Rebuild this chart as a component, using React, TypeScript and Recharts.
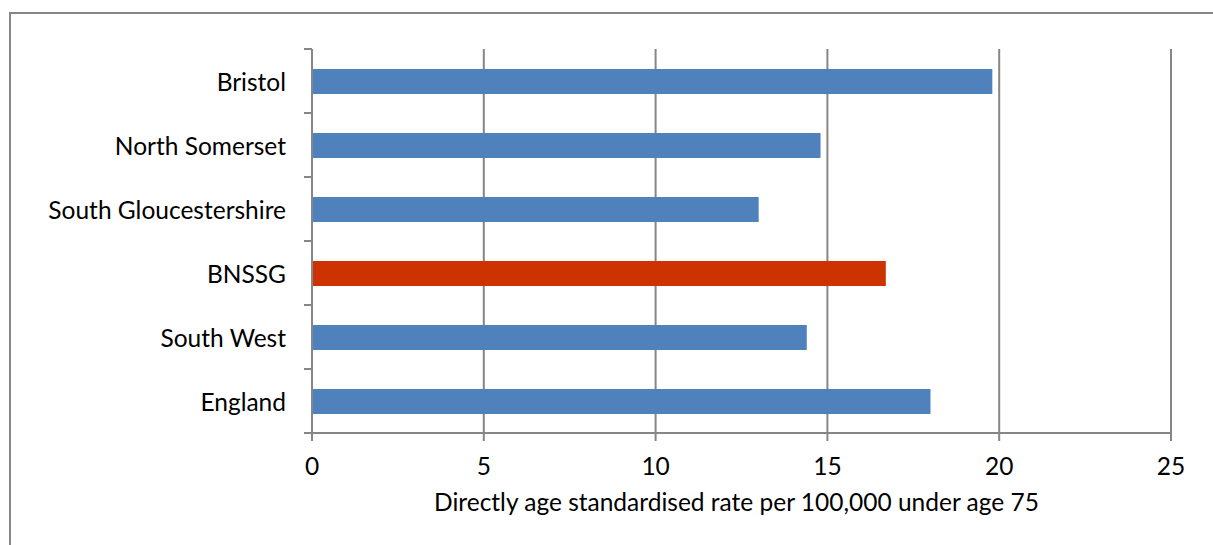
import React from "react";
import { BarChart, Bar, XAxis, YAxis, CartesianGrid, Cell, Label } from "recharts";

const areas = ["Bristol", "North Somerset", "South Gloucestershire", "BNSSG", "South West", "England"];
const rates = [19.8, 14.8, 13.0, 16.7, 14.4, 18.0];
const xTicks = [0, 5, 10, 15, 20, 25];
const highlight = "BNSSG";

const BLUE = "#4F81BD";
const RED = "#CC3300";
const AXIS = "#868686";
const FONT = "Lato, 'Open Sans', sans-serif";
const FS = 24.5;

const W = 1213;
const H = 545;
const M = { top: 49, right: 42, bottom: 0, left: 0 };
const X_AXIS_H = 112;
const halfBand = (H - M.top - M.bottom - X_AXIS_H) / areas.length / 2;

const data = areas.map((name, i) => ({ name, rate: rates[i] }));

// Excel puts category ticks between bars, so draw them at the band edges
// eslint-disable-next-line @typescript-eslint/no-explicit-any
function AreaTick(props: any) {
  const { x, y, payload, index } = props;
  const ax = x + 26;
  return (
    <g>
      <line x1={ax - 8} x2={ax} y1={y - halfBand} y2={y - halfBand} stroke={AXIS} strokeWidth={2} />
      {index === areas.length - 1 && (
        <line x1={ax - 8} x2={ax} y1={y + halfBand} y2={y + halfBand} stroke={AXIS} strokeWidth={2} />
      )}
      <text x={x} y={y} textAnchor="end" dominantBaseline="central" fontSize={FS} fill="#000" fontFamily={FONT}>
        {payload.value}
      </text>
    </g>
  );
}

export default function App() {
  return (
    <div style={{ position: "absolute", left: 0, top: 0, width: W, height: H, background: "#fff" }}>
      <div
        style={{
          position: "absolute", left: 9, top: 12, right: 0, bottom: 0,
          borderTop: `2px solid ${AXIS}`, borderLeft: `2px solid ${AXIS}`,
        }}
      />
      <BarChart width={W} height={H} data={data} layout="vertical" margin={M} style={{ position: "absolute", left: 0, top: 0 }}>
        <CartesianGrid horizontal={false} vertical stroke={AXIS} strokeWidth={2} />
        <XAxis
          type="number"
          domain={[0, 25]}
          ticks={xTicks}
          interval={0}
          height={X_AXIS_H}
          stroke={AXIS}
          strokeWidth={2}
          tickSize={8}
          tickMargin={17}
          tick={{ fontSize: FS, fill: "#000", fontFamily: FONT }}
        >
          <Label
            value="Directly age standardised rate per 100,000 under age 75"
            position="insideBottom"
            offset={34}
            dx={-5}
            style={{ fontSize: FS, fill: "#000", fontFamily: FONT }}
          />
        </XAxis>
        <YAxis
          type="category"
          dataKey="name"
          width={312}
          stroke={AXIS}
          strokeWidth={2}
          tickLine={false}
          tickSize={0}
          tickMargin={26}
          tick={<AreaTick />}
        />
        <Bar dataKey="rate" barSize={25} isAnimationActive={false}>
          {data.map((d, i) => (
            <Cell key={i} fill={d.name === highlight ? RED : BLUE} />
          ))}
        </Bar>
      </BarChart>
    </div>
  );
}
